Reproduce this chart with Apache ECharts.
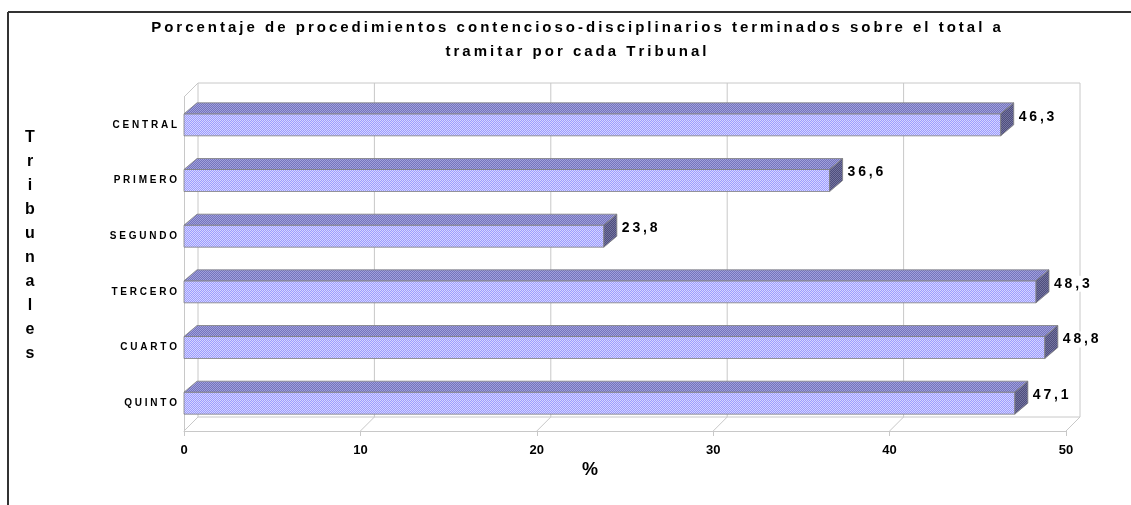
<!DOCTYPE html>
<html>
<head>
<meta charset="utf-8">
<script src="https://cdn.jsdelivr.net/npm/echarts@6/dist/echarts.min.js"></script>
<style>
  html, body { margin: 0; padding: 0; background: #fff; }
  #chart { width: 1131px; height: 505px; }
</style>
</head>
<body>
<div id="chart"></div>
<script>
// datos
const categories = ['CENTRAL', 'PRIMERO', 'SEGUNDO', 'TERCERO', 'CUARTO', 'QUINTO'];
const values = [46.3, 36.6, 23.8, 48.3, 48.8, 47.1];
const xMin = 0, xMax = 50, xStep = 10;
const titleLines = [
    'Porcentaje de procedimientos contencioso-disciplinarios terminados sobre el total a',
    'tramitar por cada Tribunal'
];
const yName = 'Tribunales';
const xName = '%';

const FONT = '"Liberation Sans", Arial, sans-serif';
const DEPTH = 14;      // fondo de las paredes
const BAR_DX = 13, BAR_DY = 11, BAR_H = 22;

// separa letras como en el original (Excel usa espaciado de caracteres)
const spaced = (s, sep) => Array.from(s).join(sep);

// trama punteada tipo Excel
function makePattern(c1, c2) {
    const cv = document.createElement('canvas');
    cv.width = 2; cv.height = 2;
    const ctx = cv.getContext('2d');
    ctx.fillStyle = c1; ctx.fillRect(0, 0, 2, 2);
    ctx.fillStyle = c2; ctx.fillRect(0, 0, 1, 1); ctx.fillRect(1, 1, 1, 1);
    return { type: 'pattern', image: cv, repeat: 'repeat' };
}
const frontFill = makePattern('#9c9cff', '#d4d4ff');
const topFill = makePattern('#7474bc', '#a0a0dc');
const sideFill = makePattern('#4e4e7c', '#7474a0');

const chart = echarts.init(document.getElementById('chart'));

function renderFrame(params, api) {
    const cs = params.coordSys;
    const top = cs.y, bottom = cs.y + cs.height;
    const x0 = api.coord([xMin, 0])[0];
    const x1 = api.coord([xMax, 0])[0];
    const line = { stroke: '#c8c8c8', lineWidth: 1 };
    const children = [];
    for (let v = xMin; v <= xMax; v += xStep) {
        const x = api.coord([v, 0])[0];
        // líneas de la pared del fondo
        children.push({ type: 'line', shape: { x1: x + DEPTH, y1: top - DEPTH, x2: x + DEPTH, y2: bottom - DEPTH }, style: line });
        // líneas del suelo
        children.push({ type: 'line', shape: { x1: x, y1: bottom, x2: x + DEPTH, y2: bottom - DEPTH }, style: line });
    }
    children.push({ type: 'line', shape: { x1: x0 + DEPTH, y1: top - DEPTH, x2: x1 + DEPTH, y2: top - DEPTH }, style: line });
    children.push({ type: 'line', shape: { x1: x0 + DEPTH, y1: bottom - DEPTH, x2: x1 + DEPTH, y2: bottom - DEPTH }, style: line });
    children.push({ type: 'line', shape: { x1: x0, y1: top, x2: x0 + DEPTH, y2: top - DEPTH }, style: line });
    return { type: 'group', children: children };
}

function renderBar(params, api) {
    const val = api.value(0);
    const start = api.coord([0, api.value(1)]);
    const end = api.coord([val, api.value(1)]);
    const xa = start[0], xb = end[0];
    const y0 = start[1] - BAR_H / 2, y1 = y0 + BAR_H;
    const edge = { stroke: '#808080', lineWidth: 0.8 };
    const label = val.toFixed(1).replace('.', ',');
    return {
        type: 'group',
        children: [
            { type: 'rect', shape: { x: xa, y: y0, width: xb - xa, height: BAR_H },
              style: Object.assign({ fill: frontFill }, edge) },
            { type: 'polygon', shape: { points: [[xa, y0], [xa + BAR_DX, y0 - BAR_DY], [xb + BAR_DX, y0 - BAR_DY], [xb, y0]] },
              style: Object.assign({ fill: topFill }, edge) },
            { type: 'polygon', shape: { points: [[xb, y0], [xb + BAR_DX, y0 - BAR_DY], [xb + BAR_DX, y1 - BAR_DY], [xb, y1]] },
              style: Object.assign({ fill: sideFill }, edge) },
            { type: 'text', x: xb + BAR_DX + 4, y: start[1] - 8, z2: 10,
              style: { text: spaced(label, '\u2009'), font: 'bold 14px ' + FONT, fill: '#000',
                       verticalAlign: 'middle', align: 'left', backgroundColor: '#fff', padding: [1, 1] } }
        ]
    };
}

chart.setOption({
    animation: false,
    backgroundColor: '#fff',
    grid: { left: 184, right: 65, top: 97, bottom: 74 },
    xAxis: {
        type: 'value', min: xMin, max: xMax, interval: xStep,
        axisLine: { show: true, lineStyle: { color: '#c8c8c8' } },
        axisTick: { show: true, length: 5, lineStyle: { color: '#c8c8c8' } },
        splitLine: { show: false },
        axisLabel: { color: '#000', fontFamily: FONT, fontWeight: 'bold', fontSize: 13, margin: 13 }
    },
    yAxis: {
        type: 'category', data: categories, inverse: true,
        axisLine: { show: true, lineStyle: { color: '#c8c8c8' } },
        axisTick: { show: false },
        axisLabel: { color: '#000', fontFamily: FONT, fontWeight: 'bold', fontSize: 10, margin: 7,
                     formatter: v => spaced(v, ' ') }
    },
    graphic: [
        { type: 'line', shape: { x1: 8, y1: 12, x2: 1131, y2: 12 }, style: { stroke: '#333', lineWidth: 2 } },
        { type: 'line', shape: { x1: 8, y1: 12, x2: 8, y2: 505 }, style: { stroke: '#333', lineWidth: 2 } },
        { type: 'text', x: 576, y: 28, style: { text: spaced(titleLines[0], '\u2009'), font: 'bold 15px ' + FONT,
          fill: '#000', align: 'center', verticalAlign: 'middle' } },
        { type: 'text', x: 576, y: 52, style: { text: spaced(titleLines[1], '\u2009'), font: 'bold 15px ' + FONT,
          fill: '#000', align: 'center', verticalAlign: 'middle' } },
        { type: 'text', x: 30, y: 246, style: { text: Array.from(yName).join('\n'), font: 'bold 16px ' + FONT,
          lineHeight: 24, fill: '#000', align: 'center', verticalAlign: 'middle' } },
        { type: 'text', x: 590, y: 470, style: { text: xName, font: 'bold 18px ' + FONT,
          fill: '#000', align: 'center', verticalAlign: 'middle' } }
    ],
    series: [
        { type: 'custom', renderItem: renderFrame, data: [[0, 0]], silent: true, z: 1,
          encode: { x: 0, y: 1 } },
        { type: 'custom', renderItem: renderBar, z: 2,
          data: values.map((v, i) => [v, i]),
          encode: { x: 0, y: 1 } }
    ]
});
</script>
</body>
</html>
